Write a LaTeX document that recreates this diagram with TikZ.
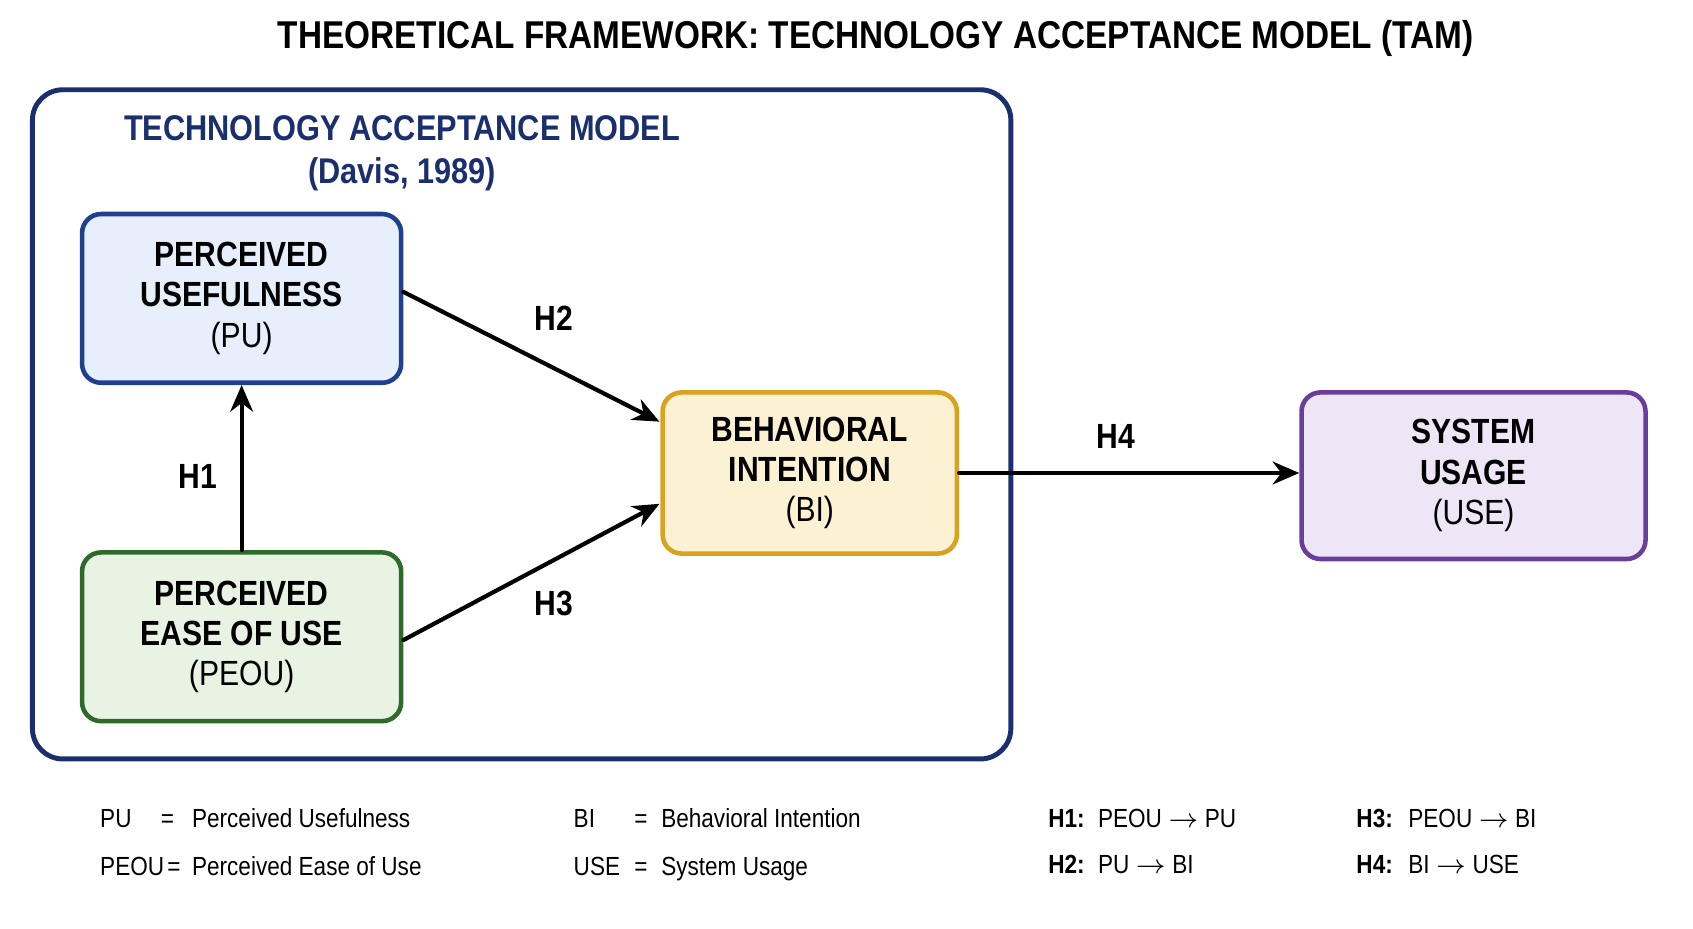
\documentclass[tikz,border=0pt]{standalone}
\usepackage{fontspec}
\setmainfont[FakeStretch=0.86]{Liberation Sans}
\usetikzlibrary{arrows.meta}
\definecolor{navy}{HTML}{1B2F6E}
\definecolor{puline}{HTML}{1F3F8F}
\definecolor{pufill}{HTML}{E6EFFB}
\definecolor{eoline}{HTML}{2E6B2A}
\definecolor{eofill}{HTML}{E9F3E3}
\definecolor{biline}{HTML}{D9A21F}
\definecolor{bifill}{HTML}{FDF1D3}
\definecolor{usline}{HTML}{6A3D9A}
\definecolor{usfill}{HTML}{EEE6F6}
\tikzset{
  box/.style={draw,line width=1.2pt,rounded corners=5pt,align=center,
    font=\fontsize{9.2}{10.6}\selectfont},
  link/.style={-{Stealth[length=7pt,width=6pt]},line width=1.1pt},
  hlab/.style={font=\fontsize{9.2}{11}\selectfont\bfseries},
  legend/.style={anchor=base west,inner sep=0pt,font=\fontsize{6.9}{8}\selectfont}
}
\begin{document}
\begin{tikzpicture}[x=0.01cm,y=-0.01cm,line cap=round,line join=round]
    \useasboundingbox (0,0) rectangle (1566,859);

    % title
    \node[font=\fontsize{10.2}{12}\selectfont\bfseries] (title) at (810,36)
      {THEORETICAL FRAMEWORK: TECHNOLOGY ACCEPTANCE MODEL (TAM)};

    % TAM frame
    \draw[navy,line width=1.3pt,rounded corners=8pt] (30,83) rectangle (935,702);
    \node[navy,align=center,font=\fontsize{9.4}{11.3}\selectfont\bfseries] (tam) at (372,142)
      {TECHNOLOGY ACCEPTANCE MODEL\\(Davis, 1989)};

    % constructs
    \node[box,draw=puline,fill=pufill,minimum width=2.95cm,minimum height=1.56cm] (pu) at (223.5,276)
      {\textbf{PERCEIVED}\\\textbf{USEFULNESS}\\(PU)};
    \node[box,draw=eoline,fill=eofill,minimum width=2.95cm,minimum height=1.56cm] (peou) at (223.5,589)
      {\textbf{PERCEIVED}\\\textbf{EASE OF USE}\\(PEOU)};
    \node[box,draw=biline,fill=bifill,minimum width=2.72cm,minimum height=1.49cm] (bi) at (749,437.5)
      {\textbf{BEHAVIORAL}\\\textbf{INTENTION}\\(BI)};
    \node[box,draw=usline,fill=usfill,minimum width=3.18cm,minimum height=1.54cm] (use) at (1363,440)
      {\textbf{SYSTEM}\\\textbf{USAGE}\\(USE)};

    % hypotheses
    \draw[link] (peou) -- (pu);
    \draw[link] (pu.east) ++(0,-6) coordinate (pua) -- (610,390) coordinate (bia);
    \draw[link] (peou.east) ++(0,3) coordinate (peoua) -- (610,466) coordinate (bib);
    \draw[link] (bi.east) -- (use.west |- bi.east);
    \node[hlab] (h1) at (183,441) {H1};
    \node[hlab] (h2) at (512,294) {H2};
    \node[hlab] (h3) at (512,558) {H3};
    \node[hlab] (h4) at (1032,404) {H4};

    % legend
    \node[legend] at (92,765) {PU};
    \node[legend] at (148,765) {=};
    \node[legend] at (177,765) {Perceived Usefulness};
    \node[legend] at (92,810) {PEOU};
    \node[legend] at (154,810) {=};
    \node[legend] at (177,810) {Perceived Ease of Use};
    \node[legend] at (530,765) {BI};
    \node[legend] at (586,765) {=};
    \node[legend] at (611,765) {Behavioral Intention};
    \node[legend] at (530,810) {USE};
    \node[legend] at (586,810) {=};
    \node[legend] at (611,810) {System Usage};
    \node[legend] at (969,765) {\textbf{H1:}};
    \node[legend] at (1015,765) {PEOU $\rightarrow$ PU};
    \node[legend] at (969,808) {\textbf{H2:}};
    \node[legend] at (1015,808) {PU $\rightarrow$ BI};
    \node[legend] at (1254,765) {\textbf{H3:}};
    \node[legend] at (1302,765) {PEOU $\rightarrow$ BI};
    \node[legend] at (1254,808) {\textbf{H4:}};
    \node[legend] at (1302,808) {BI $\rightarrow$ USE};
  \end{tikzpicture}
\end{document}
